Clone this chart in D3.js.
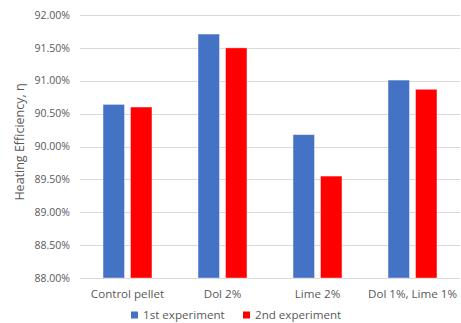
<!DOCTYPE html>
<html><head><meta charset="utf-8">
<script src="https://cdn.jsdelivr.net/npm/d3@7"></script>
<style>body{margin:0;background:#fff}svg{display:block}text{font-family:"Open Sans",sans-serif;fill:#595959}</style>
</head><body>
<svg id="c" width="461" height="323"></svg>
<script>
const categories = ["Control pellet", "Dol 2%", "Lime 2%", "Dol 1%, Lime 1%"];
const seriesNames = ["1st experiment", "2nd experiment"];
const exp1 = [0.9064, 0.9171, 0.9018, 0.9101];
const exp2 = [0.9060, 0.9150, 0.8955, 0.9087];
const yTicks = [0.88, 0.885, 0.89, 0.895, 0.90, 0.905, 0.91, 0.915, 0.92];
const colors = ["#4472C4", "#FF0000"];

const svg = d3.select("#c");
const m = {l: 80, r: 1, t: 15, b: 45};
const W = 461, H = 323;
const x = d3.scaleBand().domain(categories).range([m.l, W - m.r]).paddingInner(0.485).paddingOuter(0.2425);
const xi = d3.scaleBand().domain(seriesNames).range([0, x.bandwidth()]).paddingInner(0.22);
const y = d3.scaleLinear().domain([0.88, 0.92]).range([H - m.b, m.t]);

// gridlines
svg.append("g").selectAll("line").data(yTicks).join("line")
  .attr("x1", m.l).attr("x2", W - m.r)
  .attr("y1", d => Math.round(y(d)) + 0.5).attr("y2", d => Math.round(y(d)) + 0.5)
  .attr("stroke", "#d9d9d9").attr("stroke-width", 1);

// y axis labels
const fmt = d3.format(".2%");
svg.append("g").selectAll("text").data(yTicks).join("text")
  .attr("x", 70).attr("y", d => y(d)).attr("dy", "0.35em")
  .attr("text-anchor", "end").attr("font-size", 10.5).text(d => fmt(d));

// bars
const data = categories.map((c, i) => ({c, vals: [exp1[i], exp2[i]]}));
const g = svg.append("g").selectAll("g").data(data).join("g")
  .attr("transform", d => `translate(${x(d.c)},0)`);
g.selectAll("rect").data(d => d.vals.map((v, j) => ({v, s: seriesNames[j], j}))).join("rect")
  .attr("x", d => xi(d.s)).attr("width", xi.bandwidth())
  .attr("y", d => y(d.v)).attr("height", d => y(0.88) - y(d.v))
  .attr("fill", d => colors[d.j]).attr("stroke", "#fff").attr("stroke-opacity", 0.5).attr("stroke-width", 0.75);

// x labels
svg.append("g").selectAll("text").data(categories).join("text")
  .attr("x", d => x(d) + x.bandwidth() / 2).attr("y", 294).attr("dy", "0.35em")
  .attr("text-anchor", "middle").attr("font-size", 11.6).text(d => d);

// y title
svg.append("text").attr("transform", "translate(20,142) rotate(-90)")
  .attr("text-anchor", "middle").attr("dy", "0.35em").attr("font-size", 12.5)
  .text("Heating Efficiency, η");

// legend
const legX = [131, 243];
const lg = svg.append("g").selectAll("g").data(seriesNames).join("g")
  .attr("transform", (d, i) => `translate(${legX[i]},315)`);
lg.append("rect").attr("x", 0).attr("y", -3.5).attr("width", 7).attr("height", 7).attr("fill", (d, i) => colors[i]);
lg.append("text").attr("x", 12).attr("dy", "0.35em").attr("font-size", 11.6).text(d => d);
</script>
</body></html>
